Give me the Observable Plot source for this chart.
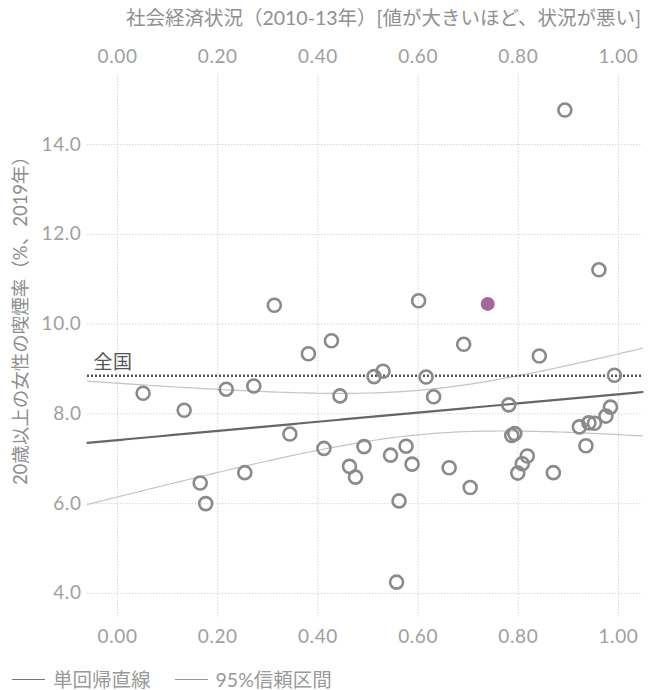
<!DOCTYPE html>
<html><head><meta charset="utf-8">
<script src="https://cdn.jsdelivr.net/npm/d3@7"></script>
<script src="https://cdn.jsdelivr.net/npm/@observablehq/plot@0.6"></script>
<style>
body{margin:0;background:#fff;font-family:Lato,"Noto Sans CJK JP",sans-serif;}
#wrap{position:relative;width:658px;height:690px;overflow:hidden}
#chart{position:absolute;left:0;top:0}
.lbl{position:absolute;color:#8c8c8c;white-space:nowrap;line-height:1}
#title{right:17px;top:8px;font-size:19.5px;color:#909090}
#ylabel{left:20px;top:316px;font-size:18.5px;transform:translate(-50%,-50%) rotate(-90deg);transform-origin:center}
#legend{position:absolute;left:12px;top:670px;font-size:19.5px;color:#999;display:flex;align-items:center;line-height:1;white-space:nowrap}
#legend .sw{display:inline-block;width:33px;height:0;border-top:1.5px solid #777;margin-right:8px}
#legend .item{display:flex;align-items:center;margin-right:24px}
svg text{letter-spacing:0.6px}
</style></head><body>
<div id="wrap">
<div id="chart"></div>
<div id="title" class="lbl">社会経済状況（2010-13年）[値が大きいほど、状況が悪い]</div>
<div id="ylabel" class="lbl">20歳以上の女性の喫煙率（%、2019年）</div>
<div id="legend"><span class="item"><span class="sw"></span>単回帰直線</span><span class="item"><span class="sw" style="border-color:#999"></span>95%信頼区間</span></div>
</div>
<script>
// socio-economic index (2010-13), one per prefecture
const socioEconomic = [0.051,0.133,0.165,0.176,0.217,0.254,0.272,0.313,0.344,0.381,
  0.427,0.412,0.444,0.463,0.475,0.492,0.512,0.530,0.545,0.562,
  0.557,0.576,0.588,0.601,0.616,0.631,0.662,0.691,0.704,0.739,
  0.781,0.787,0.793,0.799,0.808,0.818,0.842,0.870,0.893,0.922,
  0.935,0.941,0.952,0.961,0.975,0.984,0.992];
// female smoking rate age 20+ (%, 2019)
const smokingRate = [8.46,8.08,6.46,6.00,8.55,6.69,8.62,10.42,7.55,9.34,
  9.63,7.23,8.40,6.83,6.59,7.27,8.83,8.95,7.08,6.06,
  4.25,7.28,6.88,10.52,8.82,8.38,6.80,9.55,6.36,10.45,
  8.20,7.52,7.56,6.68,6.89,7.06,9.29,6.69,14.77,7.71,
  7.29,7.80,7.79,11.21,7.95,8.15,8.86];
const highlightIndex = 29;
const nationalRate = 8.85;
const nationalLabel = "全国";
const xTicks = [0, 0.2, 0.4, 0.6, 0.8, 1.0];
const yTicks = [4, 6, 8, 10, 12, 14];
const xDomain = [-0.06, 1.048];
const yDomain = [3.44, 15.54];
const tCrit = 2.014; // t(0.975, df=45)

const data = socioEconomic.map((x, i) => ({x, y: smokingRate[i], hi: i === highlightIndex}));

// simple linear regression with 95% confidence interval for the mean
const n = data.length;
const xbar = d3.mean(data, d => d.x), ybar = d3.mean(data, d => d.y);
const Sxx = d3.sum(data, d => (d.x - xbar) ** 2);
const Sxy = d3.sum(data, d => (d.x - xbar) * (d.y - ybar));
const b = Sxy / Sxx, a = ybar - b * xbar;
const s = Math.sqrt(d3.sum(data, d => (d.y - a - b * d.x) ** 2) / (n - 2));
const grid = d3.range(101).map(i => xDomain[0] + i * (xDomain[1] - xDomain[0]) / 100);
const fit = grid.map(x => {
  const yh = a + b * x;
  const h = tCrit * s * Math.sqrt(1 / n + (x - xbar) ** 2 / Sxx);
  return {x, yh, lo: yh - h, hi: yh + h};
});

const gridStyle = {stroke: "#d6d6d6", strokeDasharray: "1.5,1.5", strokeOpacity: 1, strokeWidth: 1};
const chart = Plot.plot({
  width: 658, height: 655,
  marginLeft: 87, marginRight: 16, marginTop: 75, marginBottom: 37,
  style: {fontFamily: "Lato, 'Noto Sans CJK JP', sans-serif", fontSize: "19px", color: "#a0a0a0", background: "#fff"},
  x: {domain: xDomain},
  y: {domain: yDomain},
  marks: [
    Plot.gridX(xTicks, gridStyle),
    Plot.gridY(yTicks, gridStyle),
    Plot.axisX({anchor: "top", ticks: xTicks, tickFormat: d3.format(".2f"), tickSize: 0, tickPadding: 13, label: null}),
    Plot.axisX({anchor: "bottom", ticks: xTicks, tickFormat: d3.format(".2f"), tickSize: 0, tickPadding: 11, label: null}),
    Plot.axisY({anchor: "left", ticks: yTicks, tickFormat: d3.format(".1f"), tickSize: 0, tickPadding: 6, label: null}),
    Plot.line(fit, {x: "x", y: "lo", stroke: "#c4c4c4", strokeWidth: 1.2}),
    Plot.line(fit, {x: "x", y: "hi", stroke: "#c4c4c4", strokeWidth: 1.2}),
    Plot.line(fit, {x: "x", y: "yh", stroke: "#666", strokeWidth: 2.2}),
    Plot.ruleY([nationalRate], {stroke: "#555", strokeWidth: 2.5, strokeDasharray: "2,2"}),
    Plot.text([nationalLabel], {x: xDomain[0], y: nationalRate, text: d => d, textAnchor: "start", dx: 6, dy: -13, fill: "#555", fontSize: 19}),
    Plot.dot(data.filter(d => !d.hi), {x: "x", y: "y", r: 6.5, stroke: "#8a8a8a", strokeWidth: 2.6, fill: "none"}),
    Plot.dot(data.filter(d => d.hi), {x: "x", y: "y", r: 7, fill: "#a5689c", stroke: "none"})
  ]
});
document.getElementById("chart").append(chart);
</script>
</body></html>
